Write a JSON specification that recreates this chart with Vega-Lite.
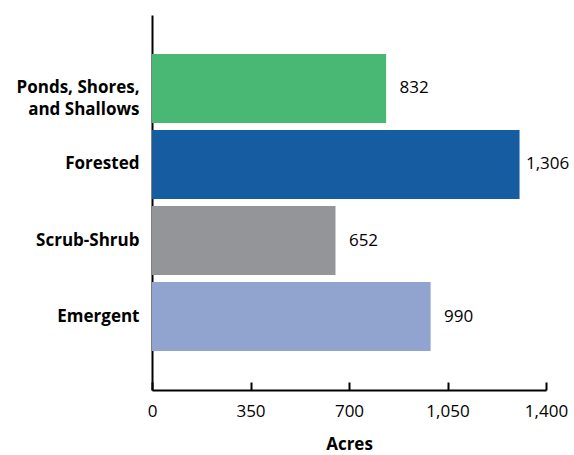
{
  "$schema": "https://vega.github.io/schema/vega-lite/v6.json",
  "width": 394,
  "height": 375,
  "autosize": {"type": "none"},
  "padding": {"left": 152, "top": 15, "right": 28, "bottom": 65},
  "background": "white",
  "config": {"view": {"stroke": null}},
  "data": {
    "values": [
      {"type": "Ponds, Shores, and Shallows", "acres": 832, "color": "#48b874"},
      {"type": "Forested", "acres": 1306, "color": "#155da0"},
      {"type": "Scrub-Shrub", "acres": 652, "color": "#939598"},
      {"type": "Emergent", "acres": 990, "color": "#91a3cf"}
    ]
  },
  "encoding": {
    "y": {
      "field": "type",
      "type": "nominal",
      "sort": null,
      "scale": {"paddingInner": 0.092, "paddingOuter": 0.513},
      "axis": {
        "title": null,
        "ticks": false,
        "domainColor": "black",
        "domainWidth": 2,
        "labelFont": "Open Sans",
        "labelFontWeight": "bold",
        "labelFontSize": 17,
        "labelColor": "black",
        "labelPadding": 13,
        "labelLineHeight": 22,
        "labelExpr": "datum.label == 'Ponds, Shores, and Shallows' ? ['Ponds, Shores,', 'and Shallows'] : datum.label"
      }
    },
    "x": {
      "field": "acres",
      "type": "quantitative",
      "scale": {"domain": [0, 1400], "nice": false},
      "axis": {
        "title": "Acres",
        "values": [0, 350, 700, 1050, 1400],
        "format": ",.0f",
        "grid": false,
        "domainColor": "black",
        "domainWidth": 2,
        "tickColor": "black",
        "tickWidth": 2,
        "tickSize": -8,
        "labelFont": "Open Sans",
        "labelFontSize": 17,
        "labelColor": "black",
        "labelPadding": 21,
        "labelFlush": false,
        "titleFont": "Open Sans",
        "titleFontWeight": "bold",
        "titleFontSize": 17,
        "titleColor": "black",
        "titlePadding": 17
      }
    }
  },
  "layer": [
    {
      "mark": {"type": "bar"},
      "encoding": {
        "color": {"field": "color", "type": "nominal", "scale": null}
      }
    },
    {
      "mark": {"type": "text", "align": "center", "baseline": "middle", "dx": 28, "font": "Open Sans", "fontSize": 17, "color": "black"},
      "encoding": {
        "text": {"field": "acres", "type": "quantitative", "format": ",.0f"}
      }
    }
  ]
}
